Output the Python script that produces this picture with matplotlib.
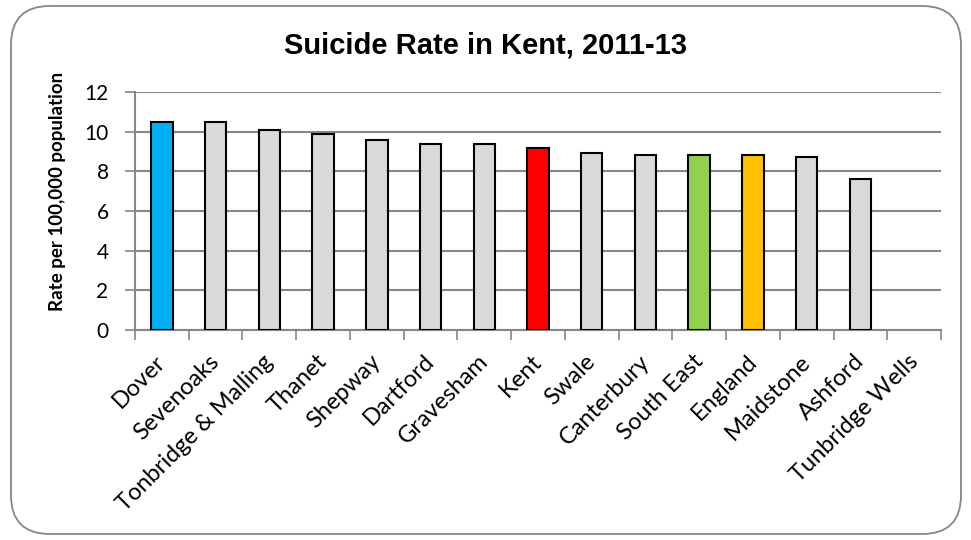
import numpy as np
import matplotlib
matplotlib.use('Agg')
import matplotlib.pyplot as plt
import matplotlib.transforms as mtransforms
from matplotlib.patches import FancyBboxPatch

# Suicide rate per 100,000, 2011-13
areas = ['Dover', 'Sevenoaks', 'Tonbridge & Malling', 'Thanet', 'Shepway',
         'Dartford', 'Gravesham', 'Kent', 'Swale', 'Canterbury',
         'South East', 'England', 'Maidstone', 'Ashford', 'Tunbridge Wells']
rates = [10.5, 10.5, 10.1, 9.9, 9.6, 9.4, 9.4, 9.2, 8.9, 8.8, 8.8, 8.8, 8.7, 7.6, np.nan]
highlight = {'Dover': '#00b0f0', 'Kent': '#ff0000',
             'South East': '#92d050', 'England': '#ffc000'}
y_ticks = [0, 2, 4, 6, 8, 10, 12]

label_font = 'Lato'
grid_col = '#868686'

fig = plt.figure(figsize=(9.71, 5.40), dpi=100)

# rounded chart border, kept behind the axes
border = FancyBboxPatch((11 / 971, 6 / 540), 950 / 971, 528 / 540,
                        boxstyle='round,pad=0,rounding_size=0.04',
                        transform=fig.transFigure, facecolor='white',
                        edgecolor=grid_col, linewidth=1.3, mutation_aspect=971 / 540,
                        zorder=-10)
fig.patches.append(border)

ax = fig.add_axes([135 / 971, 1 - 330 / 540, 806 / 971, 238 / 540])
ax.set_facecolor('none')
ax.set_zorder(5)

x = np.arange(len(areas))
colors = [highlight.get(a, '#d9d9d9') for a in areas]
ax.bar(x, rates, width=0.4, color=colors, edgecolor='black', linewidth=1.5, zorder=3)

ax.set_xlim(-0.5, len(areas) - 0.5)
ax.set_ylim(0, 12)
ax.set_yticks(y_ticks)
ax.yaxis.grid(True, color=grid_col, linewidth=1.5, zorder=0)
ax.tick_params(axis='y', length=7, width=1.2, color=grid_col, pad=12,
               labelsize=15)
for lab in ax.get_yticklabels():
    lab.set_fontfamily(label_font)

ax.set_xticks(x)
ax.set_xticklabels(areas, rotation=45, ha='right', rotation_mode='anchor',
                   fontsize=17, fontfamily=label_font)
ax.set_xticks(np.arange(-0.5, len(areas), 1.0), minor=True)
ax.tick_params(axis='x', which='major', length=0, pad=15)
ax.tick_params(axis='x', which='minor', length=7, width=1.2, color=grid_col)
# nudge the slanted labels a little to the left
shift = mtransforms.ScaledTranslation(-5 / 72, 0, fig.dpi_scale_trans)
for lab in ax.get_xticklabels():
    lab.set_transform(lab.get_transform() + shift)

for s in ['top', 'right']:
    ax.spines[s].set_visible(False)
for s in ['left', 'bottom']:
    ax.spines[s].set_color(grid_col)
    ax.spines[s].set_linewidth(1.5)

ax.set_ylabel('Rate per 100,000 population', fontsize=13.5, fontweight='bold',
              fontfamily=label_font)
ax.yaxis.set_label_coords(-0.086, 0.584)
fig.text(0.5, 1 - 45 / 540, 'Suicide Rate in Kent, 2011-13', ha='center', va='center',
         fontsize=21, fontweight='bold', fontfamily='Liberation Sans')

fig.savefig('out.png', dpi=100)
